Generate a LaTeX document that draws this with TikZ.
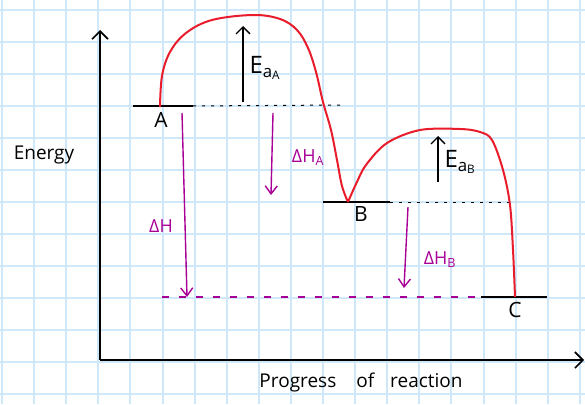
\documentclass[tikz,border=0pt]{standalone}
\usepackage{fontspec}
\setmainfont{Open Sans}
\usetikzlibrary{arrows.meta}
\definecolor{gridblue}{RGB}{206,232,250}
\definecolor{curvered}{RGB}{232,28,42}
\definecolor{dhmag}{RGB}{168,0,150}
\begin{document}
\begin{tikzpicture}[x=1pt,y=-1pt,
  gridline/.style={gridblue,line width=2pt},
  axis/.style={line width=2.2pt,-{Straight Barb[length=8pt,width=16pt,line width=1.6pt]}},
  level/.style={line width=1.7pt},
  ext/.style={line width=1pt,dash pattern=on 3pt off 6pt},
  curve/.style={curvered,line width=2pt,line join=round},
  eaarrow/.style={line width=1.3pt,-{Straight Barb[length=7pt,width=14pt,line width=1.3pt]}},
  dharrow/.style={dhmag,line width=1.4pt,-{Straight Barb[length=8pt,width=12pt,line width=1.4pt]}},
  dhline/.style={dhmag,line width=1.2pt,dash pattern=on 7pt off 10pt},
  lvl/.style={font=\fontsize{21}{21}\selectfont},
  ealbl/.style={font=\fontsize{24}{24}\selectfont,anchor=west},
  dhlbl/.style={dhmag,font=\fontsize{18}{18}\selectfont},
  axlbl/.style={font=\fontsize{19}{19}\selectfont}]
\path[use as bounding box,fill=white] (0,0) rectangle (585,404);
% grid
\foreach \k in {0,...,18} {\draw[gridline] ({2+32.1*\k},0) -- ({2+32.1*\k},404);}
\foreach \k in {0,...,12} {\draw[gridline] (0,{10+32*\k}) -- (585,{10+32*\k});}
% axes
\coordinate (O) at (100,360);
\coordinate (ytop) at (100,30);
\coordinate (xend) at (584,360);
\draw[axis] (O) -- (ytop);
\draw[axis] (O) -- (xend);
% levels
\coordinate (A0) at (133,106); \coordinate (A1) at (193,106); \coordinate (A2) at (340,105);
\coordinate (B0) at (323,202); \coordinate (B1) at (390,202); \coordinate (B2) at (516,202);
\coordinate (C0) at (481,297); \coordinate (C1) at (547,297);
\coordinate (H0) at (162,297);
\draw[dhline] (H0) -- (C0);
\draw[level] (A0) -- (A1);
\draw[ext] (A1) -- (A2);
\draw[level] (B0) -- (B1);
\draw[ext] (B1) -- (B2);
\draw[level] (C0) -- (C1);
% energy curve
\draw[curve] plot[smooth,tension=0.6] coordinates {(160,107) (162,76) (170,52) (186,33) (212,20) (253,15) (280,19) (297,30) (308,48) (316,72) (323,102) (331,130) (337,160) (342,186) (348,202)};
\draw[curve] plot[smooth,tension=0.55] coordinates {(348,202) (356,184) (366,165) (387,143) (420,130) (460,129) (480,132) (492,140) (503,170) (510,205) (513,250) (515,297)};
% Ea arrows
\coordinate (eaA0) at (243,102); \coordinate (eaA1) at (243,26);
\coordinate (eaB0) at (438,182); \coordinate (eaB1) at (438,136);
\draw[eaarrow] (eaA0) -- (eaA1);
\draw[eaarrow] (eaB0) -- (eaB1);
% Delta H arrows
\coordinate (dh0) at (182,113); \coordinate (dh1) at (187,297);
\coordinate (dhA0) at (273,113); \coordinate (dhA1) at (271,195);
\coordinate (dhB0) at (408,207); \coordinate (dhB1) at (404,288);
\draw[dharrow] (dh0) -- (dh1);
\draw[dharrow] (dhA0) -- (dhA1);
\draw[dharrow] (dhB0) -- (dhB1);
% labels
\node[lvl] (lA) at (161,120) {A};
\node[lvl] (lB) at (361,214) {B};
\node[lvl] (lC) at (515,310) {C};
\node[ealbl] (eA) at (246,68) {E\textsubscript{a\textsubscript{A}}};
\node[ealbl] (eB) at (441,162) {E\textsubscript{a\textsubscript{B}}};
\node[dhlbl] (tdh) at (161,226) {ΔH};
\node[dhlbl] (tdhA) at (308,158) {ΔH\textsubscript{A}};
\node[dhlbl] (tdhB) at (440,260) {ΔH\textsubscript{B}};
\node[axlbl] (ylab) at (44,155) {Energy};
\node[axlbl] (xlab) at (361,383) {Progress\hspace{20pt}of\hspace{16pt}reaction};
\end{tikzpicture}
\end{document}
